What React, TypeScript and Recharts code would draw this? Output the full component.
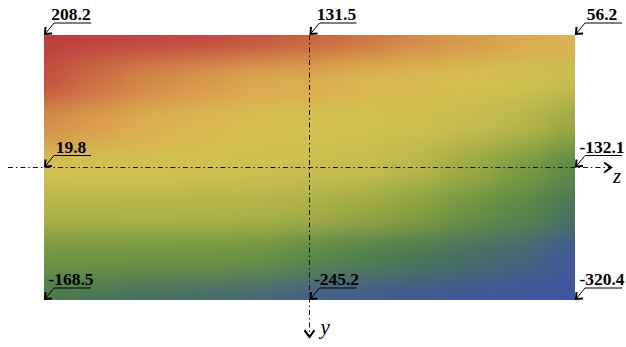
import { ReferenceLine, Scatter, ScatterChart, XAxis, YAxis } from "recharts";

const WIDTH = 626;
const HEIGHT = 347;
const MARGIN = { top: 35, right: 51, bottom: 47, left: 44 };

// stress field, 11 columns (left -> right), 7 rows (top -> bottom)
const row0 = [208, 200, 190, 180, 160, 131, 118, 100, 85, 70, 56];
const row1 = [160, 120, 100, 85, 68, 64, 48, 42, 28, 10, -10];
const row2 = [95, 78, 58, 45, 28, 20, 12, 5, -15, -40, -75];
const row3 = [20, 18, 15, 10, 2, -5, -15, -40, -70, -100, -132];
const row4 = [-50, -50, -48, -50, -52, -60, -75, -90, -115, -135, -180];
const row5 = [-108, -110, -110, -112, -115, -130, -150, -165, -190, -220, -290];
const row6 = [-168, -175, -190, -200, -215, -245, -260, -280, -300, -310, -320];
const fieldRows = [row0, row1, row2, row3, row4, row5, row6];

// annotated values and the grid node each one points at
const labelTexts = ["208.2", "131.5", "56.2", "19.8", "-132.1", "-168.5", "-245.2", "-320.4"];
const labelCols = [0, 5, 10, 0, 10, 0, 5, 10];
const labelRows = [0, 0, 0, 3, 3, 6, 6, 6];

// colour scale
const cmapValues = [210, 170, 130, 100, 70, 45, 20, -20, -50, -80, -105, -130, -165, -200, -245, -280, -320];
const cmapColors = [
  "#bd3c40", "#c24a40", "#c8623f", "#d4884a", "#dca650", "#dcb850", "#d4c250", "#c4bc4e",
  "#b0b448", "#94a642", "#769840", "#5a8a46", "#4a7850", "#466c6a", "#43608a", "#405898", "#3f54a0",
];

const hex = (c: string) => [1, 3, 5].map((i) => parseInt(c.slice(i, i + 2), 16));

function colorOf(v: number) {
  if (v >= cmapValues[0]) return cmapColors[0];
  for (let i = 1; i < cmapValues.length; i++) {
    if (v >= cmapValues[i]) {
      const t = (cmapValues[i - 1] - v) / (cmapValues[i - 1] - cmapValues[i]);
      const a = hex(cmapColors[i - 1]);
      const b = hex(cmapColors[i]);
      const m = a.map((x, k) => Math.round(x + (b[k] - x) * t));
      return `rgb(${m[0]},${m[1]},${m[2]})`;
    }
  }
  return cmapColors[cmapColors.length - 1];
}

const fieldData = fieldRows.flatMap((r, row) => r.map((v, col) => ({ col, row, v })));
const labelData = labelTexts.map((text, i) => ({ col: labelCols[i], row: labelRows[i], text }));

const PLOT_W = WIDTH - MARGIN.left - MARGIN.right;
const PLOT_H = HEIGHT - MARGIN.top - MARGIN.bottom;
const CELL_W = PLOT_W / 10;
const CELL_H = PLOT_H / 6;
const PAD = 70;
const FONT = '"Liberation Serif", "Times New Roman", serif';

function FieldCell(props: any) {
  const { cx, cy, payload } = props;
  if (cx == null || cy == null) return null;
  let x0 = cx - CELL_W / 2;
  let x1 = cx + CELL_W / 2;
  let y0 = cy - CELL_H / 2;
  let y1 = cy + CELL_H / 2;
  if (payload.col === 0) x0 -= PAD;
  if (payload.col === 10) x1 += PAD;
  if (payload.row === 0) y0 -= PAD;
  if (payload.row === 6) y1 += PAD;
  return (
    <rect x={x0} y={y0} width={x1 - x0 + 0.6} height={y1 - y0 + 0.6} fill={colorOf(payload.v)} />
  );
}

function ValueLabel(props: any) {
  const { cx, cy, payload } = props;
  if (cx == null || cy == null) return null;
  const tx = cx + 1;
  const ty = cy - 1;
  return (
    <g>
      <line x1={cx + 10} y1={cy - 12} x2={tx} y2={ty} stroke="#000" strokeWidth={1} />
      <line x1={cx + 10} y1={cy - 12} x2={cx + 47} y2={cy - 12} stroke="#000" strokeWidth={1} />
      <polyline
        points={`${tx + 7},${ty - 0.5} ${tx},${ty} ${tx + 0.5},${ty - 7}`}
        fill="none"
        stroke="#000"
        strokeWidth={2}
      />
      <text
        x={cx + 27}
        y={cy - 15}
        textAnchor="middle"
        fontFamily={FONT}
        fontWeight="bold"
        fontSize={17.5}
        fill="#000"
      >
        {payload.text}
      </text>
    </g>
  );
}

function HorizontalAxis(props: any) {
  const { x1, y1, x2, y2 } = props;
  return (
    <g>
      <line x1={x1} y1={y1} x2={x2} y2={y2} stroke="#111" strokeWidth={1} strokeDasharray="5 3 1.5 3" />
      <polyline
        points={`${x2 - 7},${y2 - 5} ${x2},${y2} ${x2 - 7},${y2 + 5}`}
        fill="none"
        stroke="#000"
        strokeWidth={2}
      />
      <text x={x2 + 2} y={y2 + 15} fontFamily={FONT} fontStyle="italic" fontSize={21} fill="#000">
        z
      </text>
    </g>
  );
}

function VerticalAxis(props: any) {
  const { x1, y1, x2, y2 } = props;
  return (
    <g>
      <line x1={x1} y1={y1} x2={x2} y2={y2} stroke="#111" strokeWidth={1} strokeDasharray="5 3 1.5 3" />
      <polyline
        points={`${x2 - 5},${y2 - 7} ${x2},${y2} ${x2 + 5},${y2 - 7}`}
        fill="none"
        stroke="#000"
        strokeWidth={2}
      />
      <text x={x2 + 11} y={y2 - 3} fontFamily={FONT} fontStyle="italic" fontSize={21} fill="#000">
        y
      </text>
    </g>
  );
}

export default function App() {
  return (
    <div style={{ position: "absolute", left: 0, top: 0, width: WIDTH, height: HEIGHT, background: "#fff" }}>
      <style>{`.stress-field { filter: url(#fieldBlur); clip-path: url(#fieldClip); }`}</style>
      <svg width={0} height={0} style={{ position: "absolute" }}>
        <defs>
          <filter id="fieldBlur" x="-20%" y="-20%" width="140%" height="140%" colorInterpolationFilters="sRGB">
            <feGaussianBlur stdDeviation="17 13" />
          </filter>
          <clipPath id="fieldClip">
            <rect x={MARGIN.left} y={MARGIN.top} width={PLOT_W} height={PLOT_H} />
          </clipPath>
        </defs>
      </svg>
      <ScatterChart width={WIDTH} height={HEIGHT} margin={MARGIN}>
        <XAxis type="number" dataKey="col" domain={[0, 10]} hide />
        <YAxis type="number" dataKey="row" domain={[0, 6]} reversed hide />
        <Scatter
          data={fieldData}
          className="stress-field"
          shape={FieldCell}
          zIndex={-200}
          isAnimationActive={false}
        />
        <ReferenceLine
          segment={[{ x: -0.68, y: 3 }, { x: 10.68, y: 3 }]}
          ifOverflow="visible"
          shape={HorizontalAxis}
          zIndex={800}
        />
        <ReferenceLine
          segment={[{ x: 5, y: 0 }, { x: 5, y: 6.84 }]}
          ifOverflow="visible"
          shape={VerticalAxis}
          zIndex={800}
        />
        <Scatter data={labelData} shape={ValueLabel} zIndex={900} isAnimationActive={false} />
      </ScatterChart>
    </div>
  );
}
